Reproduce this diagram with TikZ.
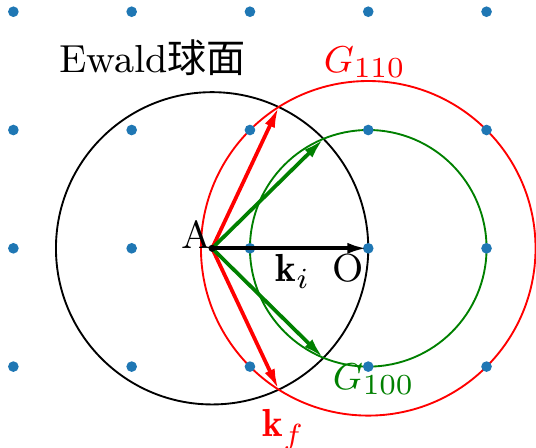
\documentclass[tikz,border=0pt]{standalone}
\usepackage{fontspec}
\newfontfamily\cjk{Noto Sans CJK SC}
\usetikzlibrary{arrows.meta,intersections}
\definecolor{dotblue}{RGB}{31,119,180}
\definecolor{mplgreen}{RGB}{0,128,0}

\tikzset{
  lattice/.style={fill=dotblue},
  sphere/.style={line width=0.45pt},
  wavevec/.style={line width=0.9pt,-{Latex[length=5pt,width=2.6pt]}},
  lbl/.style={inner sep=0pt,font=\fontsize{9.4}{11}\selectfont},
}

\begin{document}
\begin{tikzpicture}
			% Fixed coordinates
			\useasboundingbox (-3.113,-1.688) rectangle (1.418,2.099);
			\coordinate (O) at (0,0);
			\coordinate (A) at (-1.32,0);
			
			% Ewald sphere and the two shells round O
			\draw[sphere,name path=ewald] (A) circle (1.32);
			\draw[sphere,red,name path=g110] (O) circle ({sqrt(2)});
			\draw[sphere,mplgreen,name path=g100] (O) circle (1);
			
			% Reciprocal lattice
			\foreach \i in {-3,...,1}
			\foreach \j in {-1,...,2}
			\fill[lattice] (\i,\j) circle (0.045);
			
			% Where the sphere cuts the shells
			\path[name intersections={of=ewald and g110,name=r}];
			\path[name intersections={of=ewald and g100,name=g}];
			
			% Wave vectors
			\draw[wavevec,red] (A) -- (r-1);
			\draw[wavevec,red] (A) -- (r-2);
			\draw[wavevec,mplgreen] (A) -- (g-1);
			\draw[wavevec,mplgreen] (A) -- (g-2);
			\draw[wavevec,line width=1pt] (A) -- (O);
			\fill (A) circle (0.03);
			
			% Labels
			\node[lbl,anchor=base west] (ewaldlbl) at (-2.62,1.49) {Ewald{\cjk 球面}};
			\node[lbl,anchor=base west,red] (g110lbl) at (-0.383,1.49) {$G_{110}$};
			\node[lbl,anchor=base west,mplgreen] (g100lbl) at (-0.307,-1.19) {$G_{100}$};
			\node[lbl,anchor=base west,red] (kflbl) at (-0.899,-1.595) {$\mathbf{k}_f$};
			\node[lbl,anchor=base west] (kilbl) at (-0.789,-0.282) {$\mathbf{k}_i$};
			\node[lbl,anchor=base west] (olbl) at (-0.307,-0.282) {O};
			\node[lbl,anchor=base east] (albl) at (A) {A};
		\end{tikzpicture}
\end{document}
